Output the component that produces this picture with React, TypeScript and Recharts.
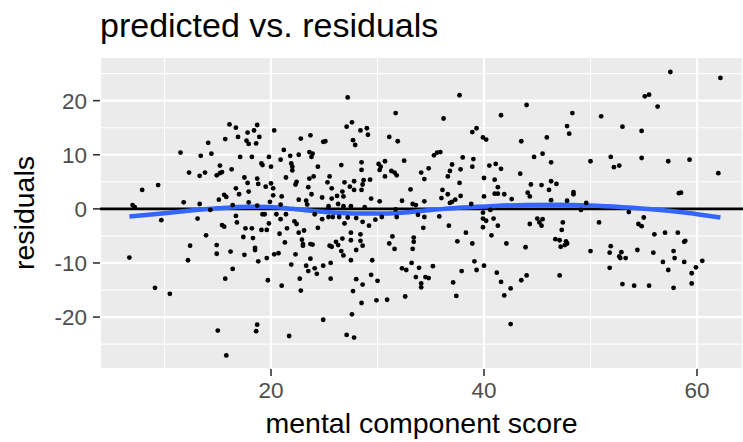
import { ComposedChart, Scatter, Line, XAxis, YAxis, CartesianGrid, ReferenceLine } from "recharts";

const FONT = '"Liberation Sans", Arial, Helvetica, sans-serif';

// [mental component score, residual]
const residualPoints: [number, number][] = [
  [16.1, 15.6], [16.7, 15.0], [18.7, 15.5], [17.8, 14.1], [18.4, 14.5], [16.9, 13.3], [18.9, 13.3],
  [15.7, 12.9], [17.7, 12.6], [17.9, 12.0], [18.6, 12.1], [14.1, 12.2], [11.5, 10.4], [13.4, 9.8],
  [14.4, 10.2], [17.1, 9.6], [18.2, 9.6], [19.1, 8.4], [19.2, 8.1], [15.2, 8.0], [12.3, 6.7],
  [13.3, 6.1], [13.8, 6.7], [14.9, 6.2], [15.2, 6.6], [15.4, 6.8], [16.3, 7.3], [17.5, 5.8],
  [17.8, 4.8], [18.7, 5.6], [18.8, 4.6], [7.9, 3.5], [9.4, 4.4], [16.7, 3.8], [17.0, 2.7],
  [17.9, 3.2], [15.6, 2.6], [15.8, 2.2], [15.1, 1.7], [11.8, 1.2], [13.3, 0.9], [7.0, 0.7],
  [7.2, 0.3], [17.9, 1.2], [16.4, 0.7], [18.7, 0.6], [14.3, -0.2], [16.7, -1.3], [19.2, -1.0],
  [9.7, -2.1], [13.1, -1.8], [16.8, -2.5], [15.4, -3.0], [15.6, -3.3], [17.6, -3.6], [18.2, -3.6],
  [19.1, -3.9], [13.9, -4.9], [17.4, -5.2], [18.3, -5.4], [12.4, -6.8], [14.9, -6.7], [6.7, -9.0],
  [12.2, -9.5], [14.9, -8.3], [16.2, -7.9], [17.5, -8.5], [18.5, -7.2], [18.5, -7.6], [18.8, -9.7],
  [16.4, -11.1], [15.7, -12.9], [9.1, -14.6], [10.5, -15.7], [18.7, -21.4], [18.6, -22.6],
  [15.0, -22.5], [15.8, -27.1],
  [27.2, 20.6], [31.7, 17.7], [27.1, 15.2], [27.6, 16.0], [28.4, 14.5], [29.0, 14.9], [29.1, 13.7],
  [20.3, 14.5], [22.8, 13.0], [23.7, 13.6], [24.9, 12.4], [25.1, 12.5], [27.7, 12.7], [27.9, 11.8],
  [31.1, 13.3], [31.9, 12.5], [21.2, 10.9], [19.8, 9.6], [21.8, 9.8], [22.6, 10.0], [23.6, 10.5],
  [23.9, 10.2], [23.8, 9.6], [20.9, 9.1], [20.0, 7.8], [21.9, 8.4], [22.0, 7.8], [22.0, 7.1],
  [24.4, 7.8], [26.6, 8.1], [28.5, 8.6], [28.5, 7.2], [30.1, 8.3], [30.3, 7.8], [30.7, 8.8],
  [30.2, 7.2], [32.5, 8.9], [30.7, 6.0], [31.3, 7.0], [31.6, 6.7], [31.8, 6.2], [34.1, 6.7],
  [34.4, 5.5], [21.4, 5.8], [22.4, 5.0], [22.3, 4.5], [23.6, 5.6], [24.0, 6.0], [25.5, 6.0],
  [25.3, 4.9], [26.9, 4.9], [27.8, 5.1], [28.7, 5.3], [29.3, 5.4], [28.6, 4.5], [19.5, 4.1],
  [20.0, 4.7], [20.2, 3.8], [20.2, 2.5], [21.0, 2.3], [23.5, 4.0], [23.8, 2.7], [24.8, 2.1],
  [25.7, 3.8], [26.7, 3.2], [26.2, 2.4], [26.8, 2.3], [27.8, 3.5], [27.4, 4.1], [28.5, 3.5],
  [29.4, 1.9], [30.2, 1.4], [32.3, 1.5], [33.1, 3.6], [33.3, 0.9], [34.4, 1.4], [19.9, 1.3],
  [20.9, 0.8], [22.6, 1.7], [23.3, 1.5], [23.4, 0.8], [25.4, 0.5], [25.7, 1.9], [26.3, 0.9],
  [26.8, 0.5], [27.5, 0.5], [28.8, 0.3], [31.7, -0.1], [33.6, 0.7], [19.4, -1.0], [20.5, -1.0],
  [21.4, -1.0], [24.1, -1.0], [33.8, -1.1],
  [20.9, -1.9], [22.2, -2.3], [22.4, -2.8], [19.8, -2.7], [19.6, -3.9], [21.5, -3.6], [20.8, -4.6],
  [22.6, -4.4], [23.1, -4.0], [24.4, -3.5], [24.8, -1.9], [25.4, -1.5], [25.8, -1.5], [26.4, -1.5],
  [27.2, -1.6], [28.0, -1.7], [28.6, -2.4], [29.2, -3.1], [29.8, -2.0], [30.4, -1.5], [26.9, -2.7],
  [31.8, -1.5], [34.4, -1.5], [34.3, -3.5], [22.9, -5.7], [23.0, -6.5], [23.0, -6.8], [23.7, -6.5],
  [23.9, -6.6], [21.3, -6.2], [26.7, -5.5], [27.5, -4.4], [28.4, -4.7], [31.4, -5.1], [31.1, -6.4],
  [31.6, -7.4], [33.4, -5.3], [33.4, -6.1], [33.3, -7.4], [25.5, -6.8], [25.7, -7.0], [26.1, -6.1],
  [26.3, -6.7], [27.5, -5.8], [28.4, -5.9], [28.6, -6.8], [28.0, -7.6], [26.6, -7.8], [26.8, -8.6],
  [19.6, -9.1], [20.3, -8.4], [20.7, -8.2], [22.3, -8.4], [23.7, -9.2], [21.9, -10.3], [23.3, -10.5],
  [23.5, -11.5], [24.1, -11.0], [24.3, -12.0], [24.9, -10.5], [25.6, -10.0], [27.5, -9.5],
  [29.5, -9.5], [32.3, -11.0], [32.7, -11.3], [33.2, -10.0], [33.9, -10.9], [34.5, -12.6],
  [33.6, -12.6], [34.1, -13.8], [34.1, -14.5], [19.7, -13.2], [21.0, -14.2], [22.7, -12.9],
  [22.8, -15.1], [25.6, -12.9], [28.0, -13.0], [28.6, -14.0], [29.4, -12.2], [30.0, -13.3],
  [27.7, -15.2], [28.5, -17.4], [29.9, -16.9], [30.9, -16.8], [32.6, -16.2], [24.9, -20.5],
  [27.6, -19.5], [21.7, -23.5], [27.1, -23.3], [27.8, -23.8],
  [37.7, 21.0], [36.2, 16.7], [44.0, 19.2], [41.6, 17.3], [48.3, 17.7], [47.8, 15.3], [48.0, 13.9],
  [38.9, 14.2], [39.3, 14.9], [39.9, 13.2], [40.2, 12.8], [43.5, 12.5], [45.9, 13.2], [35.3, 9.9],
  [35.6, 10.4], [35.9, 10.5], [38.0, 9.5], [39.0, 9.2], [44.7, 9.6], [45.5, 10.2], [46.3, 8.6],
  [34.8, 7.5], [37.0, 8.2], [36.8, 7.0], [36.6, 6.0], [37.8, 7.3], [38.9, 7.8], [40.5, 8.0],
  [41.1, 8.3], [41.6, 7.4], [40.0, 5.7], [41.0, 5.4], [43.4, 6.5], [37.7, 4.8], [44.4, 4.5],
  [45.4, 4.4], [46.3, 5.1], [46.8, 4.6], [46.1, 3.5], [44.1, 3.0], [44.3, 2.3], [41.3, 4.0],
  [41.0, 2.8], [41.3, 2.8], [41.9, 2.7], [36.1, 3.5], [36.6, 2.7], [36.0, 2.0], [37.8, 2.4],
  [37.3, 1.7], [37.0, 1.3], [36.8, 1.1], [40.0, 2.3], [42.6, 1.8], [46.3, 1.6], [47.8, 1.5],
  [48.4, 3.1], [48.4, 2.7], [38.8, 0.9], [49.6, 1.1], [39.9, -0.7], [40.6, -0.2], [49.1, -0.2],
  [35.8, -1.4], [36.7, -3.1], [38.3, -4.4], [39.9, -1.8], [40.2, -2.2], [39.9, -3.4], [40.9, -1.8],
  [41.3, -3.1], [40.7, -4.9], [37.5, -6.0], [38.9, -6.4], [42.1, -6.4], [43.9, -7.1], [44.3, -2.8],
  [45.0, -1.8], [45.5, -1.9], [45.2, -2.5], [45.4, -3.1], [47.4, -2.5], [47.3, -3.9], [46.7, -5.6],
  [47.1, -5.8], [47.7, -6.0], [47.8, -6.4], [47.6, -6.7], [47.2, -7.0], [35.2, -10.6], [34.8, -12.8],
  [37.1, -13.6], [37.9, -11.5], [39.1, -9.7], [39.3, -11.3], [40.0, -10.5], [41.2, -11.8],
  [41.6, -13.5], [42.5, -14.7], [41.9, -16.0], [43.5, -13.2], [44.0, -12.3], [47.1, -12.3],
  [37.4, -16.1], [42.5, -21.3],
  [57.5, 25.3], [62.2, 24.2], [55.1, 20.8], [55.5, 21.1], [56.3, 18.9], [51.0, 17.1], [53.0, 15.2],
  [54.8, 14.4], [50.0, 8.8], [51.9, 9.6], [52.2, 7.7], [52.7, 8.0], [54.8, 9.4], [57.3, 8.8],
  [59.3, 9.1], [62.0, 6.6], [58.3, 2.9], [58.5, 3.0],
  [53.6, -0.6], [55.0, -1.6], [50.8, -2.5], [54.5, -2.8], [54.8, -3.2], [56.0, -4.7], [57.0, -4.4],
  [58.2, -4.4], [58.9, -5.9], [58.8, -6.1], [50.0, -7.8], [51.9, -6.9], [51.8, -8.1], [52.9, -8.0],
  [52.7, -8.8], [52.8, -9.1], [53.3, -9.1], [54.4, -7.6], [55.9, -8.1], [57.8, -7.8], [57.9, -9.1],
  [56.8, -9.8], [58.8, -9.8], [60.5, -9.6], [59.9, -10.8], [59.5, -11.9], [57.3, -11.3],
  [51.8, -10.9], [53.0, -13.9], [54.1, -14.2], [55.5, -14.2], [57.8, -14.6], [59.5, -13.8],
];

// loess smooth
const smoothX = [6.7, 9, 12, 15, 18, 20, 22, 24, 26, 28, 30, 32, 34, 36, 38, 41, 44, 47, 50, 53, 56, 59, 62.2];
const smoothY = [-1.4, -1.0, -0.4, 0.1, 0.4, 0.35, 0.0, -0.4, -0.7, -0.85, -0.85, -0.75, -0.4, -0.05, 0.25, 0.55, 0.72, 0.75, 0.6, 0.3, -0.1, -0.7, -1.6];

const xTicks = [20, 40, 60];
const xMinor = [10, 30, 50];
const yTicks = [-20, -10, 0, 10, 20];
const yMinor = [-25, -15, -5, 5, 15, 25];

const tickStyle = { fill: "#4D4D4D", fontSize: 22.5, fontFamily: FONT };
const tickLineStyle = { stroke: "#333333", strokeWidth: 1.6 };

export default function App() {
  const points = residualPoints.map(([x, y]) => ({ x, y }));
  const smooth = smoothX.map((x, i) => ({ x, y: smoothY[i] }));

  return (
    <div style={{ position: "relative", width: 743, height: 442, background: "#fff", fontFamily: FONT }}>
      <style>{"body{margin:0}"}</style>
      <ComposedChart width={743} height={442} margin={{ top: 57, right: 0, bottom: 0, left: 0 }}>
        <CartesianGrid fill="#EBEBEB" fillOpacity={1} stroke="#FFFFFF" strokeWidth={2.2} />
        {xMinor.map((v) => (
          <ReferenceLine key={"xm" + v} x={v} stroke="#FFFFFF" strokeWidth={1.1} />
        ))}
        {yMinor.map((v) => (
          <ReferenceLine key={"ym" + v} y={v} stroke="#FFFFFF" strokeWidth={1.1} />
        ))}
        <XAxis
          type="number"
          dataKey="x"
          domain={[3.94, 64.32]}
          ticks={xTicks}
          allowDataOverflow
          height={73}
          tickSize={7}
          tickMargin={6}
          axisLine={false}
          tickLine={tickLineStyle}
          tick={tickStyle}
        />
        <YAxis
          type="number"
          domain={[-29.6, 28.07]}
          ticks={yTicks}
          allowDataOverflow
          width={100}
          tickSize={7}
          tickMargin={6}
          axisLine={false}
          tickLine={tickLineStyle}
          tick={tickStyle}
        />
        <Scatter
          data={points}
          dataKey="y"
          fill="#000000"
          isAnimationActive={false}
          shape={(p: any) => <circle cx={p.cx} cy={p.cy} r={2.4} fill="#000000" />}
        />
        <ReferenceLine y={0} stroke="#000000" strokeWidth={2.6} />
        <Line
          data={smooth}
          dataKey="y"
          type="monotone"
          stroke="#3366FF"
          strokeWidth={4.5}
          dot={false}
          activeDot={false}
          isAnimationActive={false}
        />
      </ComposedChart>
      <div style={{ position: "absolute", left: 100, top: 8, fontSize: 34, lineHeight: 1, color: "#000", whiteSpace: "nowrap" }}>
        predicted vs. residuals
      </div>
      <div style={{ position: "absolute", left: 100, width: 643, top: 409, fontSize: 28.5, lineHeight: 1, color: "#000", textAlign: "center", whiteSpace: "nowrap" }}>
        mental component score
      </div>
      <div style={{ position: "absolute", left: 23.5, top: 213, width: 0, height: 0 }}>
        <span style={{ position: "absolute", left: 0, top: 0, transform: "translate(-50%, -50%) rotate(-90deg)", fontSize: 28.5, lineHeight: 1, color: "#000", whiteSpace: "nowrap" }}>
          residuals
        </span>
      </div>
    </div>
  );
}
